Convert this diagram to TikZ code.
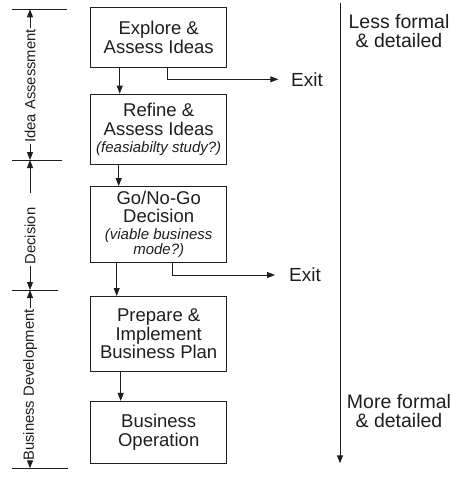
\documentclass[tikz,border=0pt]{standalone}
\usepackage{fontspec}
\setmainfont{Liberation Sans}
\usetikzlibrary{arrows.meta, positioning, calc}
\definecolor{ink}{HTML}{1E1E1E}
\tikzset{
  stage/.style   = {draw=ink, line width=0.9pt, rectangle, align=center, inner sep=0pt,
                    minimum width=136pt, text=ink, font=\fontsize{18.5}{18.6}\selectfont},
  flow/.style    = {-{Stealth[length=8pt, width=6pt, inset=0pt]}, draw=ink, line width=0.9pt},
  tick/.style    = {draw=ink, line width=0.8pt},
  phase/.style   = {rotate=90, inner sep=1pt, text=ink, font=\fontsize{14.8}{16}\selectfont},
  side/.style    = {align=center, text=ink, font=\fontsize{19.5}{18.4}\selectfont},
  exitlbl/.style = {anchor=west, inner sep=2pt, text=ink, font=\fontsize{19}{19}\selectfont},
}
\newcommand{\aside}[1]{{\itshape\fontsize{15}{15.7}\selectfont #1}}

\begin{document}
\begin{tikzpicture}[x=1pt, y=1pt]
  \useasboundingbox (0,0) rectangle (451,-491);

  % stages
  \node[stage, minimum height=60.6pt, anchor=north] (explore) at (158.7,-6.7)
    {Explore \&\\Assess Ideas};
  \node[stage, minimum height=70.6pt, below=25.4pt of explore] (refine)
    {Refine \&\\Assess Ideas\\[-2pt]\aside{(feasiabilty study?)}};
  \node[stage, minimum height=75.7pt, below=21pt of refine] (decide)
    {Go/No-Go\\Decision\\[-2pt]\aside{(viable business}\\[-3pt]\aside{mode?)}};
  \node[stage, minimum height=75pt, below=33.3pt of decide] (prepare)
    {Prepare \&\\Implement\\Business Plan};
  \node[stage, minimum height=62pt, below=29pt of prepare] (operate)
    {Business\\Operation};

  \draw[flow] ([xshift=-39pt]explore.south) -- ([xshift=-39pt]refine.north);
  \draw[flow] ([xshift=-40pt]refine.south) -- ([xshift=-40pt]decide.north);
  \draw[flow] ([xshift=-42pt]decide.south) -- ([xshift=-42pt]prepare.north);
  \draw[flow] ([xshift=-38pt]prepare.south) -- ([xshift=-38pt]operate.north);

  % exits
  \node[exitlbl] (exit1) at (289,-79.3) {Exit};
  \node[exitlbl] (exit2) at (287,-275) {Exit};
  \draw[flow, shorten >=10.7pt] ([xshift=9pt]explore.south) |- (exit1.west);
  \draw[flow, shorten >=12pt] ([xshift=14pt]decide.south) |- (exit2.west);

  % formality scale
  \coordinate (scaletop) at (340,-2.7);
  \coordinate (scalebot) at (340,-463.3);
  \draw[flow] (scaletop) -- (scalebot);
  \node[side] (lessf) at (399,-31) {Less formal\\\& detailed};
  \node[side] (moref) at (399,-411) {More formal\\\& detailed};

  % phases
  \coordinate (p0) at (11.7,-9.3);
  \coordinate (p1) at (11.7,-160);
  \coordinate (p2) at (11.7,-290);
  \coordinate (p3) at (11.7,-468.3);
  \draw[tick] (p0) -- ++(55,0);
  \draw[tick] (p1) -- ++(50,0);
  \draw[tick] (p2) -- ++(46,0);
  \draw[tick] (p3) -- ++(56,0);

  \node[phase] (idea) at (30,-86) {Idea Assessment};
  \node[phase] (decn) at (30,-236) {Decision};
  \node[phase] (bizdev) at (30,-385) {Business Development};
  \draw[flow] (idea.east) -- (idea.east |- p0);
  \draw[flow] (idea.west) -- (idea.west |- p1);
  \draw[flow, shorten <=13pt] (decn.east) -- (decn.east |- p1);
  \draw[flow] (decn.west) -- (decn.west |- p2);
  \draw[flow] (bizdev.east) -- (bizdev.east |- p2);
  \draw[flow] (bizdev.west) -- (bizdev.west |- p3);
\end{tikzpicture}
\end{document}
